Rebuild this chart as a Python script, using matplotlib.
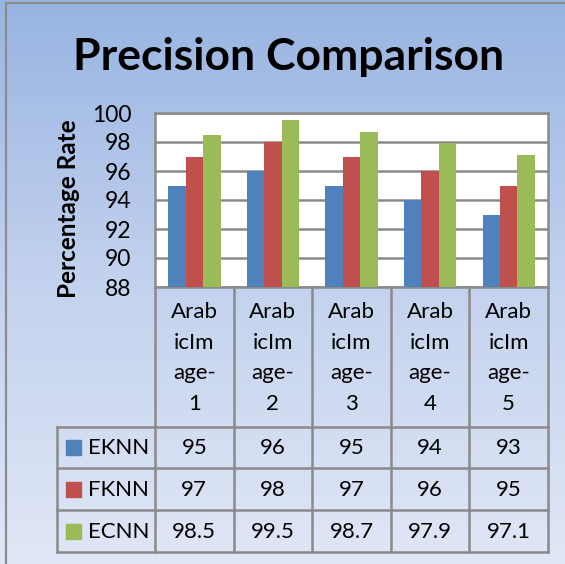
import numpy as np
import matplotlib
matplotlib.use("Agg")
import matplotlib.pyplot as plt
from matplotlib.colors import LinearSegmentedColormap

categories = ["ArabicImage-1", "ArabicImage-2", "ArabicImage-3", "ArabicImage-4", "ArabicImage-5"]
category_lines = ["Arab\nicIm\nage-\n1", "Arab\nicIm\nage-\n2", "Arab\nicIm\nage-\n3",
                  "Arab\nicIm\nage-\n4", "Arab\nicIm\nage-\n5"]
series_names = ["EKNN", "FKNN", "ECNN"]
eknn = [95, 96, 95, 94, 93]
fknn = [97, 98, 97, 96, 95]
ecnn = [98.5, 99.5, 98.7, 97.9, 97.1]
value_labels = [["95", "96", "95", "94", "93"],
                ["97", "98", "97", "96", "95"],
                ["98.5", "99.5", "98.7", "97.9", "97.1"]]
yticks = [88, 90, 92, 94, 96, 98, 100]

colors = ["#4f81bd", "#c0504d", "#9bbb59"]
grid_grey = "#8a8a8a"
FONT = "Lato"
FS = 16

W, H = 565, 564
fig = plt.figure(figsize=(W / 100, H / 100), dpi=100)

# gradient chart-area background
bg = fig.add_axes([0, 0, 1, 1], zorder=0)
cmap = LinearSegmentedColormap.from_list("bgfill", ["#98b4e2", "#c3d2ee", "#e0e7f6"])
bg.imshow(np.linspace(0, 1, 256).reshape(-1, 1), aspect="auto", cmap=cmap,
          extent=[0, W, H, 0])
bg.set_xlim(0, W)
bg.set_ylim(H, 0)
bg.axis("off")
bg.plot([6, 6], [3, H], color="#8c8c8c", lw=1.6)
bg.plot([6, W], [3, 3], color="#8c8c8c", lw=1.6)

# plot area in pixel coordinates
px_left, px_right, px_top, px_bottom = 155, 548, 113, 287
ax = fig.add_axes([px_left / W, 1 - px_bottom / H, (px_right - px_left) / W,
                   (px_bottom - px_top) / H], zorder=2)
ax.set_facecolor("white")

x = np.arange(len(categories))
bw = 1 / 4.5
for i, (vals, c) in enumerate(zip([eknn, fknn, ecnn], colors)):
    ax.bar(x + (i - 1) * bw, vals, width=bw, color=c, zorder=3)

ax.set_xlim(-0.5, len(categories) - 0.5)
ax.set_ylim(88, 100)
ax.set_yticks(yticks)
ax.set_yticklabels([str(t) for t in yticks], fontsize=16.5, fontfamily=FONT)
ax.set_xticks([])
ax.tick_params(axis="y", length=0, pad=17)
ax.yaxis.grid(True, color=grid_grey, lw=1.8)
ax.set_axisbelow(True)
for s in ax.spines.values():
    s.set_color(grid_grey)
    s.set_linewidth(1.8)

fig.text(68 / W, 1 - 209 / H, "Percentage Rate", rotation=90, ha="center", va="center",
         fontsize=17.5, fontweight="bold", fontfamily=FONT)

fig.text((W + 12) / 2 / W, 1 - 57 / H, "Precision Comparison", ha="center", va="center",
         fontsize=32, fontweight="bold", fontfamily=FONT)

# data table under the plot
tab = fig.add_axes([0, 0, 1, 1], zorder=3)
tab.set_xlim(0, W)
tab.set_ylim(H, 0)
tab.axis("off")

ncat = len(categories)
col_w = (px_right - px_left) / ncat
col_edges = [px_left + k * col_w for k in range(ncat + 1)]
head_bottom = 427
row_edges = [427, 468, 510, 552]
left_col = 57
lc = dict(color=grid_grey, lw=1.8, solid_capstyle="projecting")

for xe in col_edges:
    tab.plot([xe, xe], [px_bottom, row_edges[-1]], **lc)
tab.plot([left_col, left_col], [row_edges[0], row_edges[-1]], **lc)
for ye in row_edges:
    tab.plot([left_col, px_right], [ye, ye], **lc)

for k, lab in enumerate(category_lines):
    cx = (col_edges[k] + col_edges[k + 1]) / 2
    tab.text(cx, (px_bottom + head_bottom) / 2 + 1, lab, ha="center", va="center",
             fontsize=FS, fontfamily=FONT, linespacing=1.66)

for r, name in enumerate(series_names):
    cy = (row_edges[r] + row_edges[r + 1]) / 2
    tab.add_patch(plt.Rectangle((66, cy - 7.5), 15, 15, color=colors[r]))
    tab.text(88, cy + 1, name, ha="left", va="center", fontsize=FS, fontfamily=FONT)
    for k in range(ncat):
        cx = (col_edges[k] + col_edges[k + 1]) / 2
        tab.text(cx, cy + 1, value_labels[r][k], ha="center", va="center",
                 fontsize=FS, fontfamily=FONT)

fig.savefig("out.png", dpi=100)
